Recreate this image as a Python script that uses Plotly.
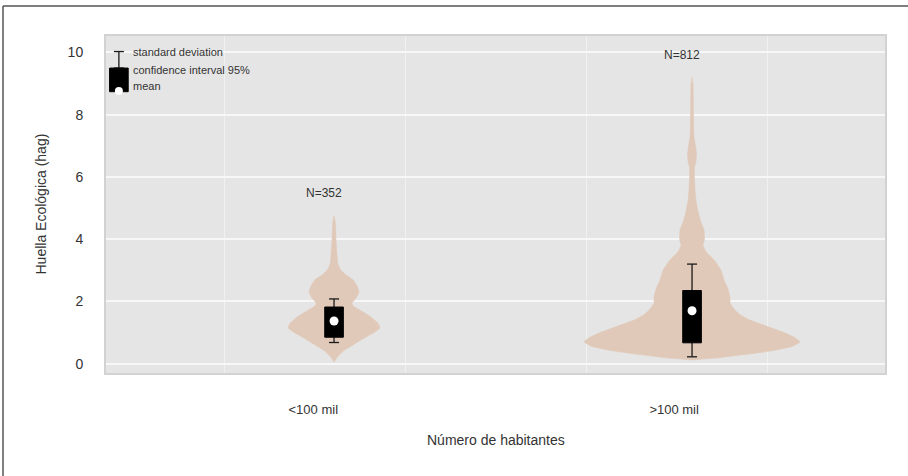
import plotly.graph_objects as go

# ---------------- data ----------------
categories = ["<100 mil", ">100 mil"]
n_obs = [352, 812]

# violin outlines: value levels (hag) and half-widths (density, arbitrary units)
v1_levels = [4.75, 4.5, 4.0, 3.5, 3.2, 3.0, 2.85, 2.7, 2.5, 2.3, 2.1, 1.95, 1.85, 1.7, 1.5, 1.3, 1.15, 1.0, 0.8, 0.6, 0.4, 0.2, 0.05]
v1_dens = [0, 1.5, 2, 3, 4, 7, 12, 19, 23, 25, 22, 18, 19, 27, 37, 44, 46, 40, 29, 19, 9, 3, 0]

v2_levels = [9.2, 9.0, 8.0, 7.3, 7.0, 6.75, 6.5, 6.3, 6.0, 5.6, 5.25, 4.9, 4.6, 4.3, 4.0, 3.8, 3.6, 3.3, 3.0, 2.7, 2.4, 2.15, 1.95, 1.8, 1.6, 1.4, 1.2, 1.0, 0.85, 0.7, 0.55, 0.43, 0.3, 0.2, 0.12]
v2_dens = [0, 1, 1.5, 2, 3.5, 4.5, 4, 2.5, 2.5, 3, 4, 6, 8.5, 12, 12.5, 11, 14, 23, 29, 32, 36, 38, 38, 41, 47, 58, 75, 92, 102, 108, 100, 83, 55, 30, 0]

means = [1.37, 1.70]
ci_low = [0.85, 0.67]
ci_high = [1.82, 2.35]
sd_low = [0.68, 0.22]
sd_high = [2.08, 3.20]

legend_labels = ["standard deviation", "confidence interval 95%", "mean"]

# ---------------- styling ----------------
VIOLIN_COLOR = "#e0c9b9"
DENS_SCALE = 1 / 358.0
BOX_HALF = 0.026
CAP_HALF = 0.014
FONT = "Liberation Sans, Arial, sans-serif"
TXT = "#333333"

fig = go.Figure()

centers = [1, 2]
violins = [(v1_levels, v1_dens), (v2_levels, v2_dens)]

for c, (lv, dn) in zip(centers, violins):
    xs = [c + d * DENS_SCALE for d in dn] + [c - d * DENS_SCALE for d in reversed(dn)]
    ys = list(lv) + list(reversed(lv))
    fig.add_trace(go.Scatter(x=xs, y=ys, mode="lines", fill="toself",
                             fillcolor=VIOLIN_COLOR, line=dict(color=VIOLIN_COLOR, width=0.5, shape="spline", smoothing=0.3),
                             hoverinfo="skip", showlegend=False))

def draw_stat(c, lo_sd, hi_sd, lo_ci, hi_ci, m, dot_size=9):
    # whisker
    fig.add_trace(go.Scatter(x=[c, c, None, c - CAP_HALF, c + CAP_HALF, None, c - CAP_HALF, c + CAP_HALF],
                             y=[lo_sd, hi_sd, None, hi_sd, hi_sd, None, lo_sd, lo_sd],
                             mode="lines", line=dict(color="#1a1a1a", width=1.3),
                             hoverinfo="skip", showlegend=False))
    # CI box
    fig.add_trace(go.Scatter(x=[c - BOX_HALF, c + BOX_HALF, c + BOX_HALF, c - BOX_HALF, c - BOX_HALF],
                             y=[lo_ci, lo_ci, hi_ci, hi_ci, lo_ci],
                             mode="lines", fill="toself", fillcolor="black",
                             line=dict(color="black", width=1), hoverinfo="skip", showlegend=False))
    # mean
    fig.add_trace(go.Scatter(x=[c], y=[m], mode="markers",
                             marker=dict(color="white", size=dot_size, line=dict(width=0)),
                             hoverinfo="skip", showlegend=False))

for i, c in enumerate(centers):
    draw_stat(c, sd_low[i], sd_high[i], ci_low[i], ci_high[i], means[i])
    fig.add_annotation(x=c, y=max(violins[i][0]) + 0.72, text=f"N={n_obs[i]}",
                       showarrow=False, xshift=-10, font=dict(family=FONT, size=12, color=TXT))

# key in the top-left corner
kx = 0.399
draw_stat(kx, 9.5, 10.03, 8.74, 9.5, 8.76, dot_size=8)
for txt, yy in zip(legend_labels, [10.0, 9.45, 8.92]):
    fig.add_annotation(x=kx + 0.034, y=yy, text=txt, showarrow=False, xanchor="left",
                       font=dict(family=FONT, size=11, color=TXT))

# outer frame lines (top & left)
L, R, T, B = 106, 23, 36, 103
W, H = 908, 476
pw, ph = W - L - R, H - T - B
def px(x): return (x - L) / pw
def py(y): return (H - B - y) / ph
fig.add_shape(type="line", xref="paper", yref="paper", x0=px(3), x1=px(908), y0=py(6), y1=py(6),
              line=dict(color="#555555", width=1.5))
fig.add_shape(type="line", xref="paper", yref="paper", x0=px(3), x1=px(3), y0=py(6), y1=py(476),
              line=dict(color="#555555", width=1.5))

fig.add_annotation(xref="paper", yref="paper", x=px(40), y=0.5, xanchor="center", yanchor="middle",
                   text="Huella Ecológica (hag)", textangle=-90, showarrow=False,
                   font=dict(family=FONT, size=14, color=TXT))
fig.add_annotation(xref="paper", yref="paper", x=0.5, y=py(440), xanchor="center", yanchor="middle",
                   text="Número de habitantes", showarrow=False, font=dict(family=FONT, size=14, color=TXT))

fig.update_layout(
    width=W, height=H,
    margin=dict(l=L, r=R, t=T, b=B),
    paper_bgcolor="white", plot_bgcolor="#e5e5e5",
    xaxis=dict(range=[0.363, 2.539], tickmode="array", tickvals=[0.942, 1.95], ticktext=categories,
               showgrid=False, zeroline=False, ticks="", ticklabelstandoff=23,
               tickfont=dict(family=FONT, size=13, color=TXT),
               showline=True, mirror=True, linecolor="#d2d2d2", linewidth=2,
               minor=dict(tick0=0.19, dtick=0.505, showgrid=True, gridcolor="#f0f0f0", gridwidth=1, ticks="")),
    yaxis=dict(range=[-0.3, 10.53], tickvals=[0, 2, 4, 6, 8, 10], showgrid=True, gridcolor="#f7f7f7",
               gridwidth=1.5, zeroline=False, ticks="", ticklabelstandoff=18,
               tickfont=dict(family=FONT, size=14, color=TXT),
               showline=True, mirror=True, linecolor="#d2d2d2", linewidth=2),
)

fig.write_html("out.html", config={"displayModeBar": False},
               post_script="document.body.style.margin='0';document.body.style.overflow='hidden';")
